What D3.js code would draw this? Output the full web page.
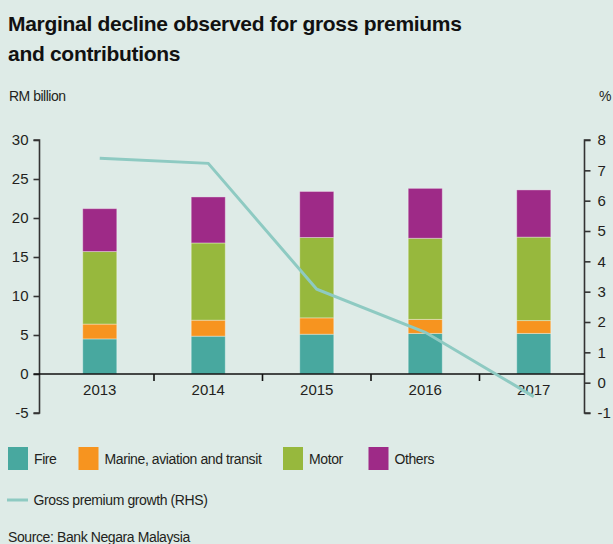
<!DOCTYPE html>
<html>
<head>
<meta charset="utf-8">
<script src="https://cdn.jsdelivr.net/npm/d3@7"></script>
<style>
  body { margin: 0; background: #deebe7; }
  svg { display: block; }
  svg text { font-family: 'Liberation Sans', Arial, sans-serif; }
</style>
</head>
<body>
<div id="chart"></div>
<script>
// data
var years = ['2013', '2014', '2015', '2016', '2017']
var fire = [4.5, 4.85, 5.1, 5.2, 5.2]
var marine = [1.9, 2.05, 2.1, 1.8, 1.65]
var motor = [9.3, 9.9, 10.3, 10.4, 10.7]
var others = [5.5, 5.9, 5.9, 6.4, 6.05]
var growth = [7.4, 7.23, 3.08, 1.66, -0.46]
var leftTicks = [-5, 0, 5, 10, 15, 20, 25, 30]
var rightTicks = [-1, 0, 1, 2, 3, 4, 5, 6, 7, 8]

var seriesNames = ['Fire', 'Marine, aviation and transit', 'Motor', 'Others']
var colors = ['#48a89f', '#f7941f', '#97b83d', '#9e2a87']
var lineColor = '#8ecac2'
var textColor = '#231f20'
var fontFamily = "'Liberation Sans', Arial, sans-serif"

var width = 613
var height = 544
var plotLeft = 39.5
var plotRight = 584.5
var plotTop = 140
var plotBottom = 413

var svg = d3.select('#chart')
  .append('svg')
  .attr('width', width)
  .attr('height', height)
  .attr('font-family', fontFamily)

// table for the stack
var table = years.map(function(y, i) {
  return { year: y, Fire: fire[i], Marine: marine[i], Motor: motor[i], Others: others[i] }
})
var stack = d3.stack().keys(['Fire', 'Marine', 'Motor', 'Others'])
var stacked = stack(table)

// scales
var xScale = d3.scaleBand().domain(years).range([45.5, 588]).paddingInner(0.686).paddingOuter(0.343)
var yLeft = d3.scaleLinear().domain([-5, 30]).range([plotBottom, plotTop])
var yRight = d3.scaleLinear().domain([-1, 8]).range([plotBottom, plotTop])

// title
var title = svg.append('text')
  .attr('x', 8)
  .attr('y', 31)
  .attr('font-size', 21)
  .attr('font-weight', 'bold')
  .attr('letter-spacing', -0.3)
  .attr('fill', '#111')
title.append('tspan').attr('x', 8).text('Marginal decline observed for gross premiums')
title.append('tspan').attr('x', 8).attr('dy', 29.5).text('and contributions')

svg.append('text')
  .attr('x', 9).attr('y', 101)
  .attr('font-size', 14)
  .attr('letter-spacing', -0.5)
  .attr('fill', textColor)
  .text('RM billion')

svg.append('text')
  .attr('x', 599).attr('y', 101)
  .attr('font-size', 14)
  .attr('fill', textColor)
  .text('%')

// bars
svg.append('g')
  .selectAll('g')
  .data(stacked)
  .enter()
  .append('g')
  .attr('fill', function(d, i) { return colors[i] })
  .selectAll('rect')
  .data(function(d) { return d })
  .enter()
  .append('rect')
  .attr('x', function(d) { return xScale(d.data.year) })
  .attr('width', xScale.bandwidth())
  .attr('y', function(d) { return yLeft(d[1]) })
  .attr('height', function(d) { return yLeft(d[0]) - yLeft(d[1]) })
  .attr('stroke', 'rgba(255,255,255,0.35)')
  .attr('stroke-width', 1)

var plain = function(d) { return String(d) }

// left axis
var leftAxis = d3.axisLeft(yLeft).tickValues(leftTicks).tickFormat(plain).tickSize(6).tickPadding(5)
var gl = svg.append('g')
  .attr('transform', 'translate(' + plotLeft + ',0)')
  .call(leftAxis)
gl.select('.domain').attr('d', 'M-6,' + plotTop + 'H0V' + plotBottom + 'H-6')

// right axis
var rightAxis = d3.axisRight(yRight).tickValues(rightTicks).tickFormat(plain).tickSize(6).tickPadding(7)
var gr = svg.append('g')
  .attr('transform', 'translate(' + plotRight + ',0)')
  .call(rightAxis)
gr.select('.domain').attr('d', 'M6,' + plotTop + 'H0V' + plotBottom + 'H6')

// x axis on the zero line
var zeroY = yLeft(0)
var xAxis = d3.axisBottom(xScale).tickSize(0).tickPadding(10)
var gx = svg.append('g')
  .attr('transform', 'translate(0,' + zeroY + ')')
  .call(xAxis)
gx.select('.domain').remove()

svg.selectAll('.tick text')
  .attr('font-size', 15)
  .attr('fill', textColor)
svg.selectAll('g').attr('font-family', fontFamily).attr('font-size', 15)
svg.selectAll('.domain, .tick line')
  .attr('stroke', '#333')
  .attr('stroke-width', 1.6)

svg.append('line')
  .attr('x1', plotLeft - 6).attr('x2', plotRight)
  .attr('y1', zeroY).attr('y2', zeroY)
  .attr('stroke', '#111')
  .attr('stroke-width', 1.6)

// small ticks between the years
var step = xScale.step()
gx.selectAll('.sep')
  .data(years.slice(1))
  .enter()
  .append('line')
  .attr('x1', function(d) { return xScale(d) + xScale.bandwidth() / 2 - step / 2 })
  .attr('x2', function(d) { return xScale(d) + xScale.bandwidth() / 2 - step / 2 })
  .attr('y1', 0).attr('y2', 7)
  .attr('stroke', '#111')
  .attr('stroke-width', 1.6)

// growth line
var line = d3.line()
  .x(function(d, i) { return xScale(years[i]) + xScale.bandwidth() / 2 })
  .y(function(d) { return yRight(d) })

svg.append('path')
  .datum(growth)
  .attr('d', line)
  .attr('fill', 'none')
  .attr('stroke', lineColor)
  .attr('stroke-width', 3)

// legend
var legendX = [8, 78.5, 283, 368.5]
var legend = svg.append('g')
seriesNames.forEach(function(name, i) {
  legend.append('rect')
    .attr('x', legendX[i]).attr('y', 447)
    .attr('width', 20).attr('height', 23)
    .attr('fill', colors[i])
  legend.append('text')
    .attr('x', legendX[i] + 26).attr('y', 463.5)
    .attr('font-size', 14)
    .attr('letter-spacing', -0.4)
    .attr('fill', textColor)
    .text(name)
})

legend.append('line')
  .attr('x1', 7).attr('x2', 28)
  .attr('y1', 500).attr('y2', 500)
  .attr('stroke', lineColor)
  .attr('stroke-width', 3)
legend.append('text')
  .attr('x', 33.5).attr('y', 505)
  .attr('font-size', 14)
  .attr('letter-spacing', -0.4)
  .attr('fill', textColor)
  .text('Gross premium growth (RHS)')

svg.append('text')
  .attr('x', 8).attr('y', 542)
  .attr('font-size', 14)
  .attr('letter-spacing', -0.4)
  .attr('fill', textColor)
  .text('Source: Bank Negara Malaysia')
</script>
</body>
</html>
